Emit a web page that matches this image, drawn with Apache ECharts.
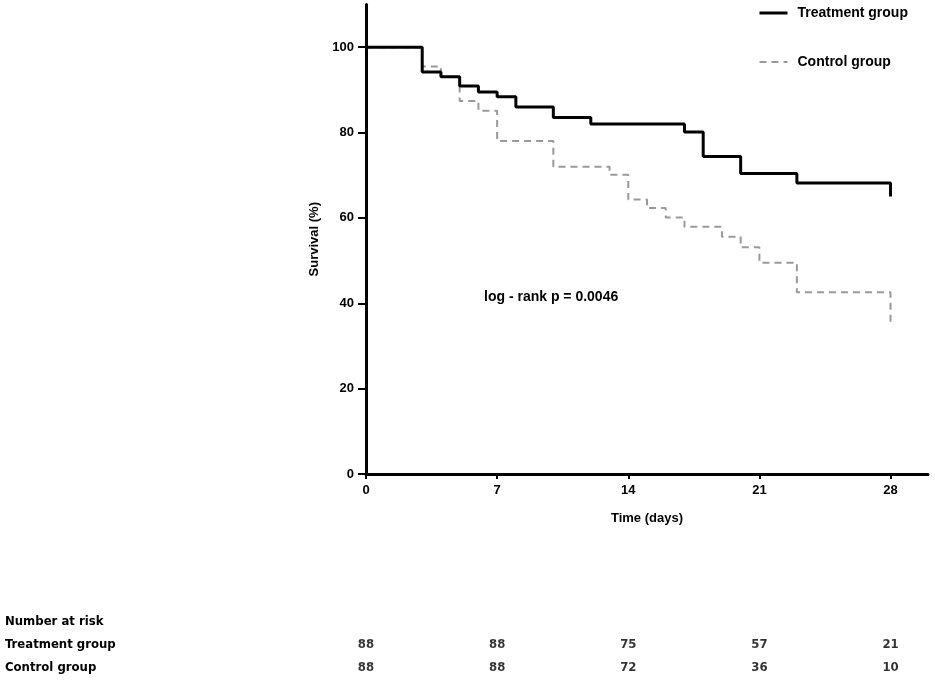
<!DOCTYPE html>
<html>
<head>
<meta charset="utf-8">
<script src="https://cdn.jsdelivr.net/npm/echarts@6/dist/echarts.min.js"></script>
<style>
  html, body { margin: 0; padding: 0; background: #fff; }
  #chart { width: 935px; height: 681px; }
</style>
</head>
<body>
<div id="chart"></div>
<script>
// Kaplan-Meier steps: [day, survival %] after the event on that day
var treatmentSteps = [[0,100],[3,94.2],[4,93.1],[5,90.9],[6,89.5],[7,88.4],[8,86.0],[10,83.5],[12,82.0],[17,80.1],[18,74.4],[20,70.4],[23,68.2],[28,65.0]];
var controlSteps = [[0,100],[3,95.5],[4,93.1],[5,87.4],[6,85.1],[7,78.0],[10,72.0],[13,70.1],[14,64.3],[15,62.3],[16,60.1],[17,57.9],[19,55.6],[20,53.1],[21,49.5],[23,42.6],[28,34.5]];

var xTicks = [0, 7, 14, 21, 28];
var yTicks = [0, 20, 40, 60, 80, 100];

// number at risk table
var riskRows = ["Number at risk", "Treatment group", "Control group"];
var riskDays = [0, 7, 14, 21, 28];
var treatmentRisk = [88, 88, 75, 57, 21];
var controlRisk = [88, 88, 72, 36, 10];

var font = "Liberation Sans, Arial, sans-serif";
var narrow = "DejaVu Sans Condensed, Liberation Sans, sans-serif";

function riskData(row, counts) {
  return riskDays.map(function (d, i) { return [d, row, counts[i]]; });
}

var chart = echarts.init(document.getElementById("chart"));

var option = {
  animation: false,
  backgroundColor: "#fff",
  textStyle: { fontFamily: font },
  legend: {
    orient: "vertical",
    left: 753,
    top: 1,
    itemWidth: 28,
    itemHeight: 14,
    itemGap: 35,
    itemStyle: { opacity: 0 },
    textStyle: { fontFamily: font, fontSize: 14, fontWeight: "bold", color: "#000", padding: [0, 0, 0, 5] },
    data: [
      { name: "Treatment group", lineStyle: { width: 3, color: "#000" } },
      { name: "Control group", lineStyle: { width: 2, color: "#999", type: [7, 5] } }
    ]
  },
  grid: [
    { left: 366, right: 7, top: 4.5, bottom: 207 },
    { left: 366, right: 7, top: 610.5, height: 69 }
  ],
  xAxis: [{
    gridIndex: 0,
    type: "value",
    min: 0,
    max: 30,
    splitLine: { show: false },
    axisLine: { lineStyle: { color: "#000", width: 3 } },
    axisTick: { customValues: xTicks, length: 5, lineStyle: { color: "#000", width: 2 } },
    axisLabel: { customValues: xTicks, margin: 10, color: "#000", fontSize: 13, fontWeight: "bold", fontFamily: font },
    name: "Time (days)",
    nameLocation: "middle",
    nameGap: 38,
    nameTextStyle: { color: "#000", fontSize: 13, fontWeight: "bold", fontFamily: font }
  }, {
    gridIndex: 1,
    type: "value",
    min: 0,
    max: 30,
    show: false
  }],
  yAxis: [{
    gridIndex: 0,
    type: "value",
    min: 0,
    max: 110,
    splitLine: { show: false },
    axisLine: { show: true, lineStyle: { color: "#000", width: 3 } },
    axisTick: { show: true, customValues: yTicks, length: 8, lineStyle: { color: "#000", width: 2 } },
    axisLabel: { customValues: yTicks, margin: 12, color: "#000", fontSize: 13, fontWeight: "bold", fontFamily: font },
    name: "Survival (%)",
    nameLocation: "middle",
    nameGap: 44,
    nameTextStyle: { color: "#000", fontSize: 13, fontWeight: "bold", fontFamily: font }
  }, {
    gridIndex: 1,
    type: "category",
    inverse: true,
    data: riskRows,
    axisLine: { show: false },
    axisTick: { show: false },
    axisLabel: { align: "left", margin: 361, color: "#000", fontSize: 13, fontWeight: "bold", fontFamily: narrow }
  }],
  graphic: [{
    type: "text",
    left: 484,
    top: 290,
    style: { text: "log - rank p = 0.0046", fill: "#000", font: "bold 14px " + font }
  }],
  series: [{
    name: "Control group",
    type: "line",
    step: "end",
    symbol: "none",
    data: controlSteps,
    itemStyle: { color: "#999" },
    lineStyle: { color: "#999", width: 2, type: [7, 5] },
    z: 2
  }, {
    name: "Treatment group",
    type: "line",
    step: "end",
    symbol: "none",
    data: treatmentSteps,
    itemStyle: { color: "#000" },
    lineStyle: { color: "#000", width: 3 },
    z: 3
  }, {
    name: "risk-treatment",
    type: "scatter",
    xAxisIndex: 1,
    yAxisIndex: 1,
    symbolSize: 1,
    itemStyle: { color: "rgba(0,0,0,0)" },
    data: riskData("Treatment group", treatmentRisk),
    label: { show: true, position: "inside", color: "#000", fontSize: 13, fontWeight: "bold", fontFamily: narrow,
      formatter: function (p) { return p.value[2]; } },
    silent: true
  }, {
    name: "risk-control",
    type: "scatter",
    xAxisIndex: 1,
    yAxisIndex: 1,
    symbolSize: 1,
    itemStyle: { color: "rgba(0,0,0,0)" },
    data: riskData("Control group", controlRisk),
    label: { show: true, position: "inside", color: "#000", fontSize: 13, fontWeight: "bold", fontFamily: narrow,
      formatter: function (p) { return p.value[2]; } },
    silent: true
  }]
};

chart.setOption(option);
</script>
</body>
</html>
